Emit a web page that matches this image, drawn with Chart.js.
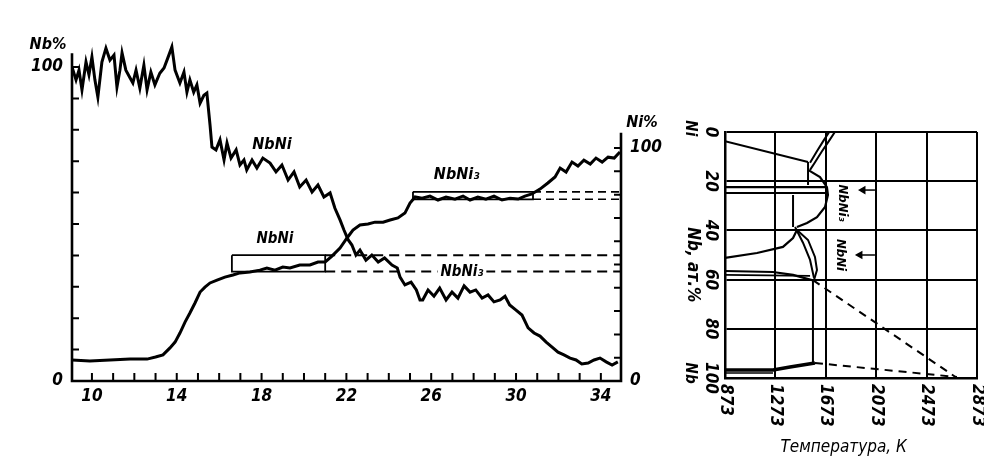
<!DOCTYPE html>
<html><head><meta charset="utf-8">
<script src="https://cdn.jsdelivr.net/npm/chart.js@4.4.0/dist/chart.umd.min.js"></script>
<style>
html,body{margin:0;padding:0;background:#fff;width:984px;height:463px;overflow:hidden}
#c1{position:absolute;left:0;top:0}
#c2{position:absolute;left:680px;top:0}
</style></head><body>
<canvas id="c1" width="680" height="463"></canvas>
<canvas id="c2" width="304" height="463"></canvas>
<script>
const FONT = "'DejaVu Sans Condensed','DejaVu Sans',sans-serif";

// ---------- left panel data ----------
const depthTicks = [10,11,12,13,14,15,16,17,18,19,20,21,22,23,24,25,26,27,28,29,30,31,32,33,34];
const depthLabels = [10,14,18,22,26,30,34];
const pctTicks = [0,10,20,30,40,50,60,70,80,90,100];
const pctLabels = [0,100];

const xNb = [9.06,9.25,9.39,9.53,9.72,9.86,10.0,10.14,10.28,10.47,10.66,10.85,11.04,11.18,11.32,11.42,11.6,11.8,11.93,12.08,12.26,12.45,12.6,12.78,12.97,13.2,13.4,13.58,13.77,13.92,14.06,14.15,14.34,14.48,14.62,14.8,14.95,15.1,15.28,15.42,15.57,15.66,15.85,16.04,16.23,16.37,16.56,16.8,16.98,17.17,17.3,17.55,17.78,18.06,18.4,18.68,18.96,19.25,19.53,19.8,20.1,20.38,20.66,20.94,21.23,21.46,21.7,21.89,22.08,22.26,22.45,22.64,22.92,23.2,23.5,23.8,24.15,24.4,24.53,24.76,25.05,25.3,25.47,25.6,25.85,26.13,26.4,26.7,26.98,27.26,27.55,27.83,28.1,28.4,28.68,28.96,29.25,29.48,29.7,30.0,30.28,30.57,30.85,31.13,31.42,31.7,31.98,32.26,32.55,32.83,33.1,33.4,33.68,33.96,34.25,34.53,34.8];
const nbVals = [100,95.9,99,92.7,101.6,97.5,103.2,95.9,90.4,101.6,106,102.2,103.8,93.6,99,104.5,99,96.5,94.9,99,93.3,100.6,92.7,98.4,94.3,98,99.7,102.9,106.4,99,96.5,94.9,98.4,92,95.9,92,94.3,88.5,91,91.7,81.5,74.5,73.6,76.8,70.4,75.8,71,73.6,68.8,70.4,67.2,70.4,67.8,71,69.4,66.6,68.8,64,66.6,61.8,64,60.2,62.4,58.6,59.9,55,51.3,48,45,43.3,40.1,41.7,38.5,40.1,37.9,39.2,36.9,36,33.1,30.6,31.5,29,25.8,25.8,29,27,29.6,25.8,28.3,26.4,30.3,28.3,29,26.4,27.4,25.2,25.8,27,24.2,22.6,21,16.9,15.3,14.3,12.4,10.8,9.2,8.3,7.3,6.7,5.4,5.7,6.7,7.3,6.1,5.1,6.1];

const xNi = [9.06,9.9,10.85,11.8,12.6,13.0,13.35,13.68,13.92,14.15,14.39,14.62,14.86,15.1,15.33,15.57,15.9,16.27,16.65,16.98,17.45,17.92,18.25,18.63,19.0,19.34,19.8,20.28,20.66,21.0,21.32,21.7,22.03,22.31,22.64,23.02,23.35,23.73,24.06,24.43,24.76,25.0,25.24,25.57,25.94,26.32,26.7,27.12,27.5,27.83,28.2,28.58,28.96,29.34,29.72,30.1,30.42,30.75,31.13,31.5,31.84,32.08,32.36,32.64,32.92,33.2,33.5,33.77,34.06,34.34,34.63,34.9];
const niVals = [9.0,8.6,9.0,9.4,9.4,10.3,11.2,14.2,16.7,20.6,25.3,29.2,33.5,38.2,40.3,42.1,43.3,44.6,45.5,46.4,46.8,47.6,48.5,47.6,48.9,48.5,49.8,49.8,51.1,51.1,53.6,57.1,61.4,64.8,67,67.4,68.2,68.2,69.1,70,72.1,76.4,79,78.5,79.4,77.7,79,78.1,79.4,77.7,79,78.1,79.4,77.7,78.5,78.1,79.4,80.3,82.4,85,87.6,91.4,89.7,94,92.3,94.8,93.1,95.7,94,96.1,95.7,98.3];

// compound ranges (Ni %): depth from..to, Ni low..high
const nbniBoxX = [16.6, 21.0];
const nbniBoxNi = [47, 54];
const nbni3BoxX = [25.14, 30.8];
const nbni3BoxNi = [78, 81.2];
const depthEnd = 34.95;

// ---------- right panel data (T, K ; Nb at.%) ----------
const tempTicks = [873,1273,1673,2073,2473,2873];
const nbAxisTicks = [0,20,40,60,80,100];
const lineNiLiq = [[873,3.7],[1532,12.2]];
const lineStep = [[1532,12.2],[1532,21.5]];
const lensNiA = [[1745,0],[1700,3.5],[1640,8],[1585,12.5],[1548,15.4]];
const lensNiB = [[1700,0],[1655,3.5],[1600,8],[1548,12.5]];
const domeNbNi3 = [[1532,15.4],[1627,18.3],[1682,22.4],[1690,25.6],[1667,30.5],[1603,34.6],[1524,37],[1444,38.6]];
const nbni3Upper = [[873,22.4],[1682,22.4]];
const nbni3Lower = [[873,24.8],[1690,24.8]];
const eutectic = [[1413,25.6],[1413,38.6]];
const lensNbNiA = [[1429,38.6],[1492,45],[1548,52],[1579,59.3]];
const lensNbNiB = [[1444,39.8],[1532,43.9],[1587,50.8],[1603,56.1],[1579,60.2]];
const nbniLeft = [[873,51.2],[1127,49.2],[1333,46.7],[1413,43.1],[1444,39.8]];
const nbniRight1 = [[873,56.5],[1254,56.9],[1413,58.1],[1563,60.2]];
const nbniRight2 = [[873,58.1],[1548,58.5]];
const nbSolvus = [[1571,60.2],[1571,93.9]];
const nbLiqDash = [[1571,60.2],[2714,100]];
const nbBottom = [[873,96.7],[1254,96.7],[1389,95.5],[1587,93.9]];
const nbBottomThin = [[873,98],[1254,98]];
const nbBottomDash = [[1587,93.9],[2714,99.6]];
const arrow1 = [[1968,23.6],[2063,23.6]];
const arrow2 = [[1944,50],[2063,50]];

const F = (size) => ({family: FONT, size: size, style: 'italic', weight: 'bold'});
const pts = (xs, ys) => xs.map((x,i)=>({x:x, y:ys[i]}));
const pr = (arr) => arr.map(p=>({x:p[0], y:p[1]}));

// ---------- left chart ----------
const boxPts = (bx, by) => [{x:bx[0],y:by[1]},{x:bx[1],y:by[1]},{x:bx[1],y:by[0]},{x:bx[0],y:by[0]},{x:bx[0],y:by[1]}];
const lineDs = (data, axis, w, dash) => ({data:data, yAxisID:axis, borderColor:'#000', borderWidth:w, borderDash:dash||[], pointRadius:0, fill:false, tension:0});

function textAt(ctx, s, x, y, size, bg){
  ctx.font = 'italic bold ' + size + 'px ' + FONT;
  ctx.textAlign = 'center'; ctx.textBaseline = 'middle';
  if (bg){ const w = ctx.measureText(s).width; ctx.fillStyle='#fff'; ctx.fillRect(x-w/2-3, y-size/2-1, w+6, size+2); }
  ctx.fillStyle = '#000';
  ctx.fillText(s, x, y);
}

const leftDecor = {
  id:'leftDecor',
  afterDatasetsDraw(chart){
    const {ctx, chartArea:a, scales} = chart;
    const x = scales.x, yNb = scales.yNb, yNi = scales.yNi;
    ctx.save();
    ctx.strokeStyle = '#000'; ctx.lineWidth = 2.6; ctx.lineCap='square';
    ctx.beginPath();
    ctx.moveTo(x.left, yNb.getPixelForValue(104)); ctx.lineTo(x.left, a.bottom);
    ctx.lineTo(x.right, a.bottom); ctx.lineTo(x.right, yNi.getPixelForValue(106));
    ctx.stroke();
    ctx.lineWidth = 2; ctx.beginPath();
    depthTicks.forEach(v=>{const p=x.getPixelForValue(v); ctx.moveTo(p,a.bottom); ctx.lineTo(p,a.bottom-7);});
    pctTicks.forEach(v=>{ if(v===0) return;
      const p=yNb.getPixelForValue(v); ctx.moveTo(x.left,p); ctx.lineTo(x.left+6,p);
      const q=yNi.getPixelForValue(v); ctx.moveTo(x.right,q); ctx.lineTo(x.right-6,q);});
    ctx.stroke();
    textAt(ctx, 'Nb%', x.left-24, yNb.getPixelForValue(107), 16);
    textAt(ctx, 'Ni%', x.right+21, yNi.getPixelForValue(111), 16);
    textAt(ctx, 'NbNi', x.getPixelForValue(18.49), yNb.getPixelForValue(75.2), 16);
    textAt(ctx, 'NbNi', x.getPixelForValue(18.63), yNi.getPixelForValue(61), 15);
    textAt(ctx, 'NbNi\u2083', x.getPixelForValue(27.2), yNi.getPixelForValue(88.4), 16);
    textAt(ctx, 'NbNi\u2083', x.getPixelForValue(27.45), yNi.getPixelForValue(46.8), 15, true);
    ctx.restore();
  }
};

new Chart(document.getElementById('c1'), {
  type:'line',
  data:{datasets:[
    lineDs(pts(xNb, nbVals), 'yNb', 3),
    lineDs(pts(xNi, niVals), 'yNi', 3),
    lineDs(boxPts(nbniBoxX, nbniBoxNi), 'yNi', 1.8),
    lineDs(boxPts(nbni3BoxX, nbni3BoxNi), 'yNi', 1.8),
    lineDs([{x:nbniBoxX[1],y:nbniBoxNi[1]},{x:depthEnd,y:nbniBoxNi[1]}], 'yNi', 2, [10,6]),
    lineDs([{x:nbniBoxX[1],y:nbniBoxNi[0]},{x:depthEnd,y:nbniBoxNi[0]}], 'yNi', 2, [10,6]),
    lineDs([{x:nbni3BoxX[1],y:nbni3BoxNi[1]},{x:depthEnd,y:nbni3BoxNi[1]}], 'yNi', 1.6, [8,5]),
    lineDs([{x:nbni3BoxX[1],y:nbni3BoxNi[0]},{x:depthEnd,y:nbni3BoxNi[0]}], 'yNi', 1.6, [8,5])
  ]},
  options:{
    responsive:false, animation:false, events:[],
    layout:{padding:{top:40,left:0,right:0,bottom:0}},
    plugins:{legend:{display:false}, tooltip:{enabled:false}},
    scales:{
      x:{type:'linear', min:9.06, max:depthEnd,
         afterBuildTicks:s=>{s.ticks = depthTicks.map(v=>({value:v}));},
         afterFit:s=>{s.height=82;},
         grid:{display:false, drawTicks:false}, border:{display:false},
         ticks:{autoSkip:false, maxRotation:0, padding:5, color:'#000', font:F(17),
                callback:v=>depthLabels.includes(v)?String(v):''}},
      yNb:{type:'linear', position:'left', min:0, max:108.6,
         afterBuildTicks:s=>{s.ticks = pctTicks.map(v=>({value:v}));},
         afterFit:s=>{s.width=72;},
         grid:{display:false, drawTicks:false}, border:{display:false},
         ticks:{autoSkip:false, padding:9, color:'#000', font:F(17),
                callback:v=>pctLabels.includes(v)?String(v):''}},
      yNi:{type:'linear', position:'right', min:0, max:146.4,
         afterBuildTicks:s=>{s.ticks = pctTicks.map(v=>({value:v}));},
         afterFit:s=>{s.width=59;},
         grid:{display:false, drawTicks:false}, border:{display:false},
         ticks:{autoSkip:false, padding:9, color:'#000', font:F(17),
                callback:v=>pctLabels.includes(v)?String(v):''}}
    }
  },
  plugins:[leftDecor]
});

// ---------- right chart ----------
function rotText(ctx, s, x, y, size, align){
  ctx.save();
  ctx.translate(x, y); ctx.rotate(Math.PI/2);
  ctx.font = 'italic bold ' + size + 'px ' + FONT;
  ctx.textAlign = align || 'center'; ctx.textBaseline = 'middle'; ctx.fillStyle = '#000';
  ctx.fillText(s, 0, 0);
  ctx.restore();
}
const rightDecor = {
  id:'rightDecor',
  afterDraw(chart){
    const {ctx, chartArea:a, scales:{x, y}} = chart;
    tempTicks.forEach(v=>rotText(ctx, String(v), x.getPixelForValue(v), a.bottom+6, 17, 'left'));
    nbAxisTicks.forEach(v=>rotText(ctx, String(v), a.left-15, y.getPixelForValue(v), 17, 'center'));
    rotText(ctx, 'Nb, ат.%', a.left-33, y.getPixelForValue(54), 17, 'center');
    rotText(ctx, 'Ni', a.left-35, y.getPixelForValue(-1.5), 15, 'center');
    rotText(ctx, 'Nb', a.left-35, y.getPixelForValue(98), 15, 'center');
    rotText(ctx, 'NbNi\u2083', x.getPixelForValue(1802), y.getPixelForValue(28.9), 13, 'center');
    rotText(ctx, 'NbNi', x.getPixelForValue(1786), y.getPixelForValue(50), 13, 'center');
    ctx.save();
    ctx.font = 'italic ' + 17 + 'px ' + FONT; ctx.textAlign='center'; ctx.textBaseline='middle'; ctx.fillStyle='#000';
    ctx.fillText('Температура, К', x.getPixelForValue(1815), 448);
    ctx.restore();
  }
};
const pd = (arr, w, dash) => ({data:pr(arr), borderColor:'#000', borderWidth:w, borderDash:dash||[], pointRadius:0, fill:false, tension:0});
const arrowDs = (arr) => ({data:pr(arr), borderColor:'#000', backgroundColor:'#000', borderWidth:1.5, pointStyle:'triangle', rotation:-90, pointRadius:[3.5,0], fill:false});

new Chart(document.getElementById('c2'), {
  type:'line',
  data:{datasets:[
    pd(lineNiLiq,2), pd(lineStep,2), pd(lensNiA,2), pd(lensNiB,2), pd(domeNbNi3,2.2),
    pd(nbni3Upper,2.2), pd(nbni3Lower,2.2), pd(eutectic,2), pd(lensNbNiA,2), pd(lensNbNiB,2),
    pd(nbniLeft,2.2), pd(nbniRight1,2.2), pd(nbniRight2,1.8), pd(nbSolvus,2),
    pd(nbLiqDash,2,[8,6]), pd(nbBottom,3.5), pd(nbBottomThin,1.5), pd(nbBottomDash,2,[8,6]),
    arrowDs(arrow1), arrowDs(arrow2)
  ]},
  options:{
    responsive:false, animation:false, events:[],
    layout:{padding:{top:132,left:0,right:7,bottom:0}},
    plugins:{legend:{display:false}, tooltip:{enabled:false}},
    scales:{
      x:{type:'linear', min:873, max:2873,
         afterBuildTicks:s=>{s.ticks = tempTicks.map(v=>({value:v}));},
         afterFit:s=>{s.height=85;},
         grid:{color:'#000', lineWidth:2, drawTicks:false}, border:{color:'#000', width:2.5},
         ticks:{display:false}},
      y:{type:'linear', min:0, max:100, reverse:true,
         afterBuildTicks:s=>{s.ticks = nbAxisTicks.map(v=>({value:v}));},
         afterFit:s=>{s.width=45;},
         grid:{color:'#000', lineWidth:2, drawTicks:false}, border:{color:'#000', width:2.5},
         ticks:{display:false}}
    }
  },
  plugins:[rightDecor]
});
</script>
</body></html>
